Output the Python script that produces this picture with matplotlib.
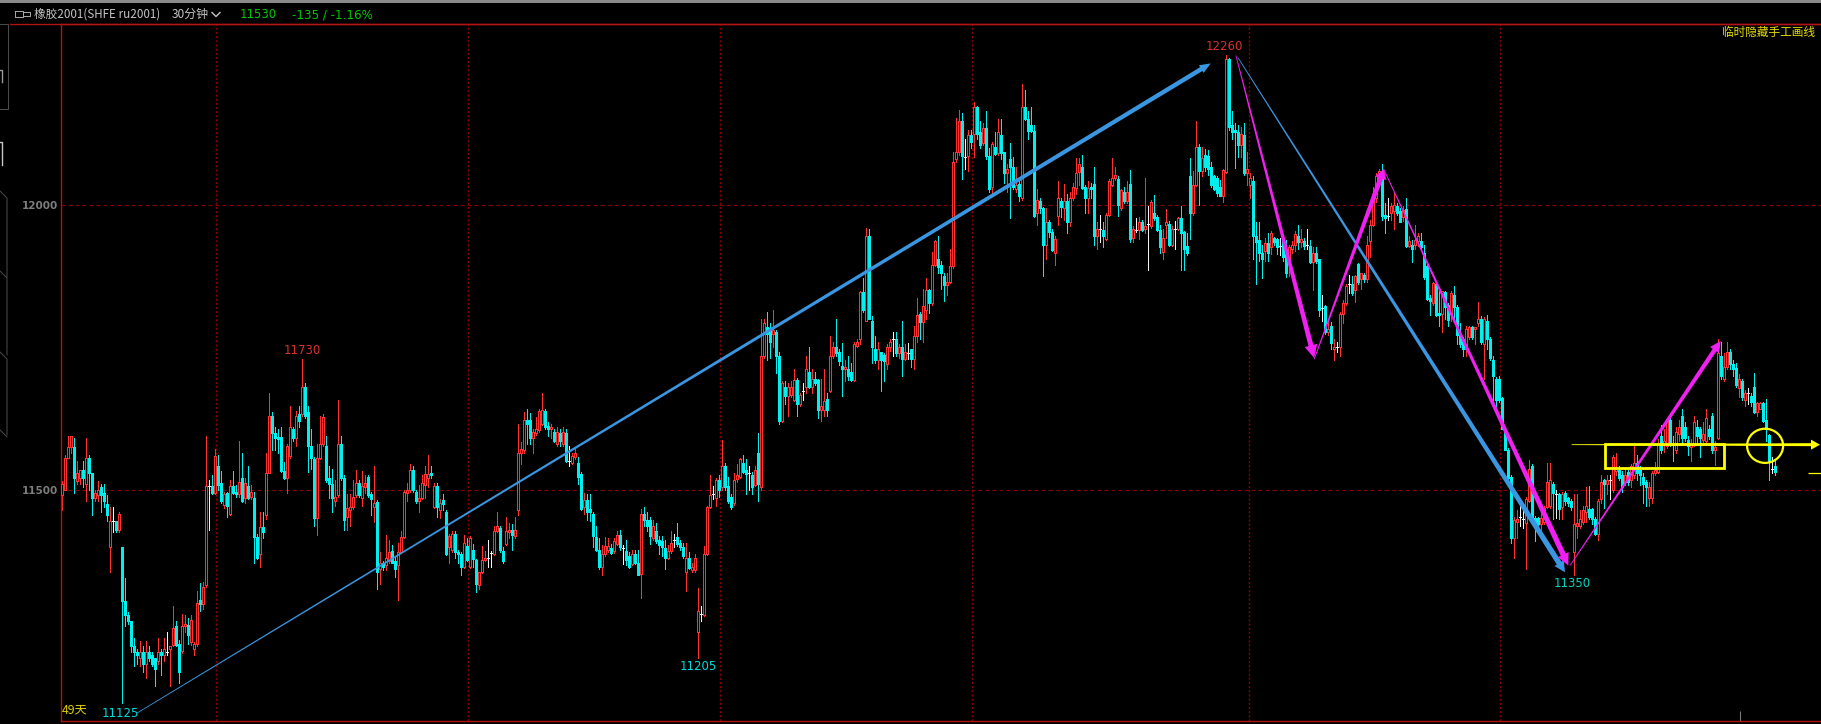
import numpy as np
import matplotlib
matplotlib.use("Agg")
import matplotlib.pyplot as plt
from matplotlib.patches import Polygon, Rectangle, Ellipse
from matplotlib.lines import Line2D

plt.rcParams['font.family'] = ['Noto Sans CJK SC', 'DejaVu Sans']

# 30 minute bars, each one (open, high, low, close)
bars_a = [
(11490,11515,11465,11510),(11500,11560,11500,11555),(11555,11595,11555,11575),(11575,11595,11565,11595),
(11575,11590,11495,11520),(11515,11550,11510,11530),(11520,11535,11510,11535),(11535,11550,11505,11520),
(11510,11590,11480,11555),(11555,11560,11500,11530),(11530,11530,11455,11485),(11485,11500,11480,11495),
(11490,11515,11480,11500),(11505,11510,11460,11490),(11495,11510,11470,11480),(11475,11490,11445,11455),
(11400,11470,11355,11445),(11445,11470,11425,11445),(11445,11445,11425,11430),(11430,11460,11425,11458),
(11400,11400,11125,11305),(11305,11345,11260,11280),(11280,11285,11265,11270),(11270,11270,11215,11225),
(11225,11240,11190,11215),(11215,11220,11195,11210),(11205,11235,11190,11215),(11215,11225,11180,11195),
(11195,11235,11170,11215),(11215,11225,11200,11205),(11210,11215,11190,11195),(11205,11205,11155,11185),
(11200,11240,11195,11215),(11215,11220,11175,11210),(11210,11240,11200,11220),(11215,11250,11210,11215),
(11220,11225,11155,11225),(11227,11296,11225,11257),(11260,11270,11225,11227),(11230,11237,11160,11180),
(11217,11282,11213,11260),(11260,11280,11250,11265),(11262,11274,11229,11245),(11233,11280,11228,11272),
(11221,11233,11210,11229),(11229,11322,11225,11302),(11306,11337,11288,11300),(11300,11338,11290,11330),
(11332,11594,11330,11506),(11506,11517,11429,11506),(11506,11525,11492,11495),(11495,11571,11492,11559),
(11541,11561,11500,11509),(11511,11533,11476,11480),(11474,11496,11468,11492),(11494,11496,11452,11472),
(11457,11517,11456,11506),(11506,11533,11492,11494),(11496,11508,11488,11492),(11492,11585,11488,11514),
(11520,11565,11478,11480),(11486,11521,11476,11511),(11506,11541,11484,11486),(11488,11508,11484,11496),
(11486,11496,11371,11417),(11417,11423,11379,11381),(11387,11460,11364,11435),(11435,11460,11415,11426),
(11456,11565,11448,11530),(11530,11670,11529,11630),(11630,11636,11569,11600),(11600,11610,11569,11591),
(11592,11606,11565,11589),(11592,11610,11531,11533),(11533,11549,11519,11521),(11521,11581,11494,11577),
(11559,11646,11555,11610),(11606,11610,11585,11590),(11591,11638,11577,11630),(11632,11646,11610,11620),
(11632,11730,11630,11681),(11681,11687,11626,11630),(11636,11646,11531,11576),(11576,11606,11537,11555),
(11553,11557,11436,11450),(11450,11581,11421,11555),(11555,11630,11553,11580),(11580,11632,11577,11628),
(11577,11594,11513,11517),(11521,11541,11486,11510),(11510,11537,11460,11486),(11480,11517,11472,11488),
(11491,11657,11488,11581),(11581,11594,11517,11521),(11521,11525,11429,11446),(11452,11492,11430,11468),
(11464,11492,11436,11470),(11470,11517,11466,11488),(11491,11534,11488,11511),(11511,11517,11488,11491),
(11486,11533,11472,11506),(11504,11525,11495,11511),(11522,11526,11488,11491),(11492,11496,11456,11484),
(11470,11541,11444,11476),(11478,11482,11326,11356),(11361,11391,11334,11371),(11372,11375,11359,11364),
(11367,11421,11359,11381),(11375,11411,11371,11391),(11393,11403,11371,11372),(11375,11383,11346,11361),
(11367,11407,11306,11391),(11391,11427,11389,11417),(11417,11500,11415,11496),(11494,11512,11480,11499),
(11499,11545,11496,11534),(11535,11541,11496,11500),(11496,11500,11476,11480),(11480,11508,11460,11486),
(11486,11525,11484,11511),(11509,11541,11486,11527),(11520,11561,11504,11527),(11530,11541,11520,11525),
(11470,11512,11468,11506),(11506,11512,11452,11470),(11464,11484,11450,11476),(11482,11492,11464,11475),
(11460,11464,11385,11387),(11399,11423,11371,11419),(11395,11427,11391,11423),(11422,11427,11380,11391),
(11391,11395,11371,11387),
]
bars_b = [
(11387,11391,11350,11364),(11364,11421,11363,11406),(11402,11415,11375,11377),(11364,11419,11363,11415),
(11395,11405,11364,11379),(11376,11379,11321,11334),(11332,11356,11326,11355),(11355,11401,11353,11376),
(11376,11393,11375,11381),(11381,11411,11364,11381),(11389,11393,11364,11389),(11387,11436,11385,11428),
(11428,11461,11426,11436),(11432,11436,11391,11395),(11393,11399,11371,11375),(11405,11452,11403,11428),
(11426,11441,11415,11430),(11430,11440,11395,11421),(11419,11452,11415,11430),(11464,11616,11456,11565),
(11565,11583,11545,11571),(11569,11636,11565,11622),(11622,11642,11581,11615),(11622,11634,11580,11590),
(11590,11606,11565,11602),(11600,11628,11596,11606),(11604,11642,11602,11638),(11616,11670,11614,11640),
(11638,11642,11606,11610),(11612,11618,11594,11606),(11606,11615,11590,11610),(11602,11606,11584,11585),
(11580,11610,11577,11602),(11600,11606,11577,11585),(11581,11610,11577,11602),(11600,11606,11549,11551),
(11551,11577,11541,11551),(11547,11565,11545,11559),(11557,11573,11553,11565),(11547,11557,11510,11522),
(11527,11531,11464,11466),(11470,11494,11458,11482),(11482,11492,11446,11460),(11466,11492,11445,11460),
(11457,11461,11399,11419),(11417,11436,11393,11395),(11395,11415,11361,11364),(11364,11403,11350,11387),
(11387,11417,11383,11401),(11394,11415,11391,11401),(11397,11405,11387,11389),(11393,11415,11389,11410),
(11405,11428,11403,11421),(11421,11429,11395,11399),(11398,11403,11369,11398),(11393,11411,11367,11377),
(11383,11391,11363,11364),(11369,11395,11367,11387),(11387,11395,11369,11371),(11372,11395,11351,11351),
(11352,11466,11310,11457),(11457,11470,11436,11446),(11446,11460,11428,11436),(11446,11452,11405,11419),
(11415,11446,11411,11436),(11428,11441,11407,11410),(11411,11419,11387,11403),(11410,11419,11383,11399),
(11397,11411,11361,11381),(11381,11403,11379,11393),(11393,11428,11389,11407),(11411,11422,11399,11411),
(11417,11441,11402,11405),(11406,11411,11395,11399),(11399,11407,11381,11383),(11356,11406,11322,11381),
(11381,11391,11361,11363),(11359,11371,11355,11364),(11359,11387,11356,11381),(11251,11328,11205,11287),
(11282,11296,11270,11282),(11280,11401,11278,11387),(11387,11472,11385,11470),(11470,11526,11468,11491),
(11492,11507,11484,11492),(11486,11521,11472,11517),(11517,11525,11488,11500),(11504,11587,11500,11541),
(11541,11547,11500,11504),(11506,11522,11476,11480),(11488,11492,11466,11470),(11476,11529,11474,11517),
(11519,11545,11513,11526),(11522,11555,11521,11553),(11547,11561,11529,11531),(11534,11553,11492,11527),
(11529,11541,11500,11529),(11526,11531,11492,11504),(11509,11541,11507,11534),(11565,11600,11480,11510),
(11504,11800,11500,11735),(11735,11800,11731,11792),(11786,11811,11727,11774),(11784,11792,11731,11760),
(11774,11816,11751,11780),(11776,11780,11704,11735),(11735,11741,11615,11620),(11620,11691,11618,11687),
(11680,11691,11650,11665),(11665,11688,11630,11680),(11666,11691,11662,11680),(11658,11711,11656,11692),
(11692,11696,11630,11650),(11650,11670,11646,11666),(11673,11687,11658,11673),(11680,11735,11670,11711),
(11707,11751,11679,11680),(11680,11711,11670,11695),(11695,11707,11683,11688),(11692,11695,11626,11640),
(11640,11695,11620,11646),(11640,11711,11630,11656),(11660,11670,11630,11640),(11674,11769,11672,11735),
(11735,11760,11731,11751),(11751,11800,11735,11739),(11742,11747,11719,11725),(11717,11757,11664,11711),
(11711,11727,11691,11715),(11711,11735,11693,11699),(11707,11723,11691,11693),(11693,11760,11691,11755),
(11752,11764,11750,11760),(11764,11849,11756,11846),(11846,11871,11812,11816),(11796,11960,11796,11946),
(11946,11958,11800,11800),(11796,11804,11722,11750),(11747,11770,11723,11727),(11727,11760,11711,11746),
(11741,11742,11674,11727),(11737,11739,11691,11726),(11721,11756,11711,11751),(11751,11764,11743,11760),
(11764,11777,11735,11764),(11765,11776,11735,11739),(11739,11756,11731,11751),(11751,11796,11700,11729),
(11729,11756,11727,11742),(11739,11757,11729,11739),
]
bars_c = [
(11746,11747,11715,11729),(11729,11788,11711,11770),(11770,11837,11760,11806),(11808,11812,11764,11794),
(11794,11853,11760,11822),(11816,11871,11800,11851),(11851,11853,11810,11827),(11827,11917,11824,11895),
(11895,11938,11893,11936),(11905,11946,11881,11891),(11895,11901,11853,11881),(11875,11881,11831,11859),
(11859,11881,11841,11865),(11865,11922,11863,11892),(11892,12092,11889,12075),(12080,12152,12075,12092),
(12092,12166,12088,12147),(12147,12161,12045,12085),(12084,12116,12063,12084),(12085,12132,12059,12122),
(12122,12132,12100,12110),(12124,12181,12084,12171),(12171,12173,12116,12124),(12127,12147,12100,12104),
(12108,12144,12104,12135),(12135,12165,12080,12085),(12085,12100,12023,12027),(12031,12110,12019,12106),
(12101,12127,12088,12089),(12090,12151,12088,12127),(12122,12151,12080,12090),(12092,12093,12039,12055),
(12055,12071,12023,12063),(12081,12108,11977,12066),(12066,12084,12027,12031),(12028,12067,12023,12035),
(12037,12047,12007,12015),(12011,12212,12009,12171),(12171,12201,12148,12150),(12151,12165,12116,12130),
(12140,12171,12128,12130),(12130,12140,11978,11981),(11986,12027,11964,12009),(12007,12011,11986,11994),
(11994,11996,11875,11930),(11930,11994,11905,11970),(11970,11974,11944,11952),(11952,11958,11918,11921),
(11916,11946,11895,11940),(11981,12041,11964,12011),(12007,12011,11978,11996),(11994,12037,11974,12007),
(12007,12019,11950,11970),(11970,12023,11962,12011),(12011,12039,12009,12031),(12029,12082,12019,12055),
(12058,12082,12035,12071),(12066,12088,12027,12029),(12031,12035,11986,12011),(12011,12041,11986,12029),
(12031,12039,12011,12027),(12037,12066,11930,11946),(11946,11970,11922,11958),(11958,11982,11934,11958),
(11956,11970,11926,11946),(11940,11986,11938,11982),(11982,12045,11981,12041),(12035,12082,12033,12047),
(12047,12066,12043,12053),(12045,12051,11980,12000),(11994,12028,11990,12025),(12023,12031,12003,12007),
(12007,12041,12003,12023),(12037,12061,11934,11939),(11942,11962,11934,11958),(11956,11977,11952,11956),
(11956,11978,11940,11970),(11970,11974,11954,11956),(11958,12047,11950,11962),(11966,11997,11885,11966),
(11962,12008,11960,12005),(11986,12017,11974,11977),(11978,11982,11954,11956),(11956,11964,11915,11926),
(11917,11958,11905,11942),(11965,11992,11942,11970),(11966,11972,11928,11930),(11930,11962,11928,11958),
(11958,11972,11922,11958),(11958,11978,11956,11976),(11976,11997,11885,11950),(11952,11954,11885,11922),
(11927,11950,11912,11915),(12051,12082,11939,11986),(11986,12059,11982,12035),(12035,12147,12033,12101),
(12101,12106,12000,12059),(12059,12101,12051,12082),(12088,12098,12059,12066),(12086,12096,12053,12063),
(12066,12075,12031,12035),(12051,12053,12025,12027),(12047,12051,12015,12020),(12031,12043,12015,12016),
(12016,12063,12005,12061),(12057,12263,12055,12256),(12256,12258,12132,12136),(12140,12165,12116,12127),
(12132,12144,12065,12127),(12127,12140,12084,12105),(12105,12136,12084,12124),(12122,12144,12053,12055),
(12055,12092,12035,12063),(12035,12055,12011,12047),(12041,12051,11905,11946),(11946,11970,11861,11934),
(11938,11970,11901,11916),(11916,11930,11871,11905),(11918,11942,11901,11932),(11932,11950,11901,11916),
(11926,11954,11913,11950),(11941,11944,11930,11934),(11939,11942,11913,11926),(11927,11942,11912,11927),
(11938,11940,11901,11909),(11913,11938,11873,11881),(11901,11930,11875,11926),(11922,11936,11915,11930),
(11930,11954,11918,11948),(11946,11964,11922,11934),(11934,11958,11926,11939),(11936,11942,11922,11928),
(11930,11958,11923,11930),(11927,11938,11897,11900),(11900,11926,11850,11916),(11916,11926,11897,11901),
(11905,11905,11804,11816),(11818,11841,11796,11818),(11822,11824,11774,11776),(11776,11796,11772,11782),
(11788,11794,11747,11757),(11746,11764,11727,11751),(11751,11760,11742,11751),(11751,11812,11735,11808),
(11808,11832,11792,11828),(11828,11861,11824,11857),(11861,11877,11845,11861),(11861,11875,11841,11845),
(11850,11877,11830,11875),(11896,11897,11861,11865),
]
bars_d = [
(11869,11881,11853,11881),(11877,11881,11865,11869),(11869,11946,11865,11930),(11936,11974,11909,11964),
(11964,12031,11962,12019),(12011,12055,12005,12051),(12043,12063,12039,12059),(12055,12071,11974,11980),
(11982,12003,11950,11977),(11980,12011,11974,11980),(11986,12003,11974,11998),(11989,12023,11958,12000),
(11998,12003,11982,11986),(11989,11994,11969,11970),(11978,11998,11972,11990),(11992,12011,11926,11927),
(11927,11946,11926,11936),(11930,11938,11900,11922),(11930,11964,11922,11938),(11936,11950,11928,11946),
(11936,11950,11922,11926),(11915,11930,11869,11873),(11893,11897,11832,11835),(11837,11841,11806,11831),
(11828,11865,11824,11863),(11861,11865,11804,11807),(11810,11849,11788,11807),(11808,11849,11777,11849),
(11847,11849,11800,11820),(11824,11828,11788,11798),(11808,11849,11796,11845),(11841,11857,11800,11820),
(11820,11824,11756,11772),(11772,11792,11751,11755),(11764,11768,11735,11747),(11747,11788,11735,11782),
(11768,11788,11764,11785),(11786,11788,11764,11768),(11782,11786,11756,11786),(11792,11830,11788,11800),
(11800,11804,11756,11760),(11756,11803,11695,11800),(11796,11806,11747,11764),(11765,11768,11727,11731),
(11727,11735,11658,11699),(11695,11697,11646,11658),(11695,11699,11654,11658),(11661,11662,11606,11606),
(11607,11610,11569,11569),(11569,11573,11509,11521),(11522,11525,11407,11415),(11415,11452,11381,11446),
(11444,11464,11415,11448),(11452,11472,11436,11452),(11448,11468,11432,11448),(11442,11488,11360,11483),
(11480,11552,11478,11537),(11541,11545,11444,11450),(11450,11453,11410,11436),(11450,11452,11428,11440),
(11440,11476,11429,11450),(11444,11472,11440,11468),(11470,11547,11468,11514),(11472,11547,11468,11517),
(11510,11513,11448,11494),(11492,11500,11450,11492),(11492,11494,11448,11466),(11470,11496,11448,11492),
(11495,11498,11474,11480),(11486,11488,11472,11476),(11480,11484,11464,11470),(11391,11492,11350,11440),
(11436,11492,11415,11441),(11436,11464,11432,11448),(11444,11472,11440,11464),(11460,11504,11444,11472),
(11466,11506,11448,11452),(11466,11468,11440,11448),(11448,11452,11421,11423),(11423,11484,11411,11480),
(11484,11525,11476,11514),(11517,11519,11468,11510),(11510,11525,11492,11517),(11517,11525,11484,11517),
(11500,11561,11496,11557),(11533,11565,11526,11538),(11535,11541,11517,11521),(11526,11533,11496,11504),
(11513,11537,11509,11526),(11531,11534,11509,11513),(11517,11545,11504,11541),(11525,11577,11521,11547),
(11547,11561,11517,11529),(11535,11541,11509,11525),(11522,11529,11476,11510),(11513,11517,11472,11504),
(11486,11513,11472,11504),(11486,11533,11476,11529),(11529,11549,11525,11534),(11531,11589,11529,11581),
(11594,11614,11565,11569),(11581,11606,11567,11585),(11577,11626,11573,11622),(11622,11626,11577,11581),
(11581,11594,11551,11579),(11569,11610,11565,11602),(11598,11622,11585,11610),(11630,11641,11581,11590),
(11610,11618,11585,11590),(11587,11594,11561,11577),(11575,11589,11551,11581),(11581,11630,11577,11618),
(11610,11622,11581,11594),(11606,11610,11557,11590),(11588,11618,11583,11598),(11585,11641,11581,11626),
(11606,11614,11589,11594),(11630,11634,11565,11569),(11569,11585,11543,11575),(11591,11764,11589,11739),
(11735,11760,11695,11699),(11695,11739,11691,11715),(11715,11760,11711,11741),(11741,11747,11711,11721),
(11721,11727,11699,11711),(11713,11723,11680,11683),(11679,11703,11662,11695),(11691,11695,11658,11662),
(11658,11675,11646,11670),(11669,11679,11650,11669),(11665,11670,11646,11653),(11681,11705,11634,11636),
(11636,11654,11630,11652),(11642,11654,11642,11652),(11652,11654,11618,11620),(11622,11660,11585,11606),
(11596,11598,11517,11549),(11537,11557,11529,11537),(11541,11553,11526,11531),
]

price_ticks = [11500, 12000]
session_breaks = [51.4, 135.4, 219.4, 303.4, 395.6, 479.4]

# (bar index, price, text, colour) of the marked extremes
extreme_labels = [(387.5, 12278, '12260', '#d8322c'), (80, 11745, '11730', '#d8322c'),
                  (19.5, 11108, '11125', '#00dcdc'), (212, 11190, '11205', '#00dcdc'),
                  (503.5, 11336, '11350', '#00d8c0')]

# hand drawn lines: start bar, start price, end bar, end price, colour, end width, head length, head half width
drawn_lines = [
    (25, 11108, 382.9, 12248, '#3a96e0', 4.5, 11, 4.5),
    (392, 12258, 501, 11355, '#3a96e0', 5.5, 11, 5.5),
    (391.3, 12262, 417.4, 11731, '#f020f0', 5.0, 13, 6.5),
    (417.4, 11729, 440.7, 12063, '#f020f0', 5.0, 10, 6),
    (440.7, 12061, 502.1, 11367, '#f020f0', 5.5, 12, 6),
    (502.7, 11367, 552.9, 11761, '#f020f0', 4.5, 11, 5.5),
    (503.2, 11579, 586.0, 11579, '#ffff00', 3.0, 9, 5),
]
box_bars = [514.3, 554.0]
box_prices = [11538, 11580]
ring_center = (567.7, 11577)
ring_size = (12, 60)
last_price = 11530

W, H = 1821, 724
fig = plt.figure(figsize=(W / 100, H / 100), dpi=100, facecolor='black')
left, right, top, bottom = 60.5, 1821, 23.5, 720.5
ax = fig.add_axes([left / W, 1 - bottom / H, (right - left) / W, (bottom - top) / H], facecolor='black')


def to_bar(px):
    return (px - 62) / 3.0


ax.set_xlim(to_bar(left), to_bar(right))
ax.set_ylim(11095, 12318)
ax.spines['right'].set_visible(False)
for s in ['left', 'top', 'bottom']:
    ax.spines[s].set_color('#b01414')
    ax.spines[s].set_linewidth(1)

ax.set_yticks(price_ticks)
ax.set_yticklabels([str(p) for p in price_ticks], color='#7d7d7d', fontsize=7.5, fontweight='bold', family='DejaVu Sans')
ax.set_xticks(session_breaks)
ax.set_xticklabels([])
ax.tick_params(length=0, pad=2)
ax.grid(axis='y', color='#8c0000', lw=0.72, ls=(0, (4, 3)), zorder=0)
ax.grid(axis='x', color='#8c0000', lw=1.0, ls=(0, (1.5, 1.5)), zorder=0)
ax.set_axisbelow(True)

bars = np.array(bars_a + bars_b + bars_c + bars_d, dtype=float)
o, h, l, c = bars.T
x = np.arange(len(bars))
up = c > o
down = c < o
flat = c == o

# one pixel lines, no smoothing, so the hollow red bodies stay open on a 3 pixel pitch
thin = 0.72
ax.vlines(x[up], l[up], h[up], color='#ff3232', lw=thin, zorder=2, antialiased=False)
ax.vlines(x[down], l[down], h[down], color='#00f0f0', lw=thin, zorder=2, antialiased=False)
ax.vlines(x[flat], l[flat], h[flat], color='#f4f4f4', lw=thin, zorder=2, antialiased=False)
ax.bar(x[up], (c - o)[up], bottom=o[up], width=0.667, facecolor='black', edgecolor='#ff3232', lw=thin, zorder=3, antialiased=False)
ax.bar(x[down], (o - c)[down], bottom=c[down], width=0.667, facecolor='#00f0f0', edgecolor='#00f0f0', lw=thin, zorder=3, antialiased=False)
ax.hlines(c[flat], x[flat] - 0.4, x[flat] + 0.4, color='#f4f4f4', lw=thin, zorder=3, antialiased=False)

for bx, by, txt, col in extreme_labels:
    ax.text(bx, by, txt, color=col, fontsize=8.5, ha='center', va='center', family='DejaVu Sans', zorder=6)


def tapered(x0, y0, x1, y1, col, w1, head_len, head_half):
    # thin at the start, widening to the arrow head, worked out in screen pixels
    p0, p1 = ax.transData.transform([(x0, y0), (x1, y1)])
    d = (p1 - p0) / np.hypot(*(p1 - p0))
    n = np.array([-d[1], d[0]])
    neck = p1 - d * head_len
    pts = [p0 + n * 0.4, neck + n * w1 / 2, neck + n * head_half, p1,
           neck - n * head_half, neck - n * w1 / 2, p0 - n * 0.4]
    ax.add_patch(Polygon(ax.transData.inverted().transform(pts), closed=True, facecolor=col, edgecolor='none', zorder=5))


for line in drawn_lines:
    tapered(*line)

ax.add_patch(Rectangle((box_bars[0], box_prices[0]), box_bars[1] - box_bars[0], box_prices[1] - box_prices[0],
                       fill=False, edgecolor='#ffff00', lw=2.0, zorder=6))
ax.add_patch(Ellipse(ring_center, ring_size[0], ring_size[1], fill=False, edgecolor='#ffff00', lw=1.6, zorder=6))
ax.hlines(last_price, to_bar(1808), to_bar(1821), color='#ffff00', lw=0.9, zorder=6)
ax.vlines(to_bar(1740), 11095, 11112, color='#777777', lw=0.8, zorder=6)


# everything outside the plot is placed in screen pixels
def ftext(px, py, txt, col, size=8.0, **kw):
    fig.text(px / W, 1 - py / H, txt, color=col, fontsize=size, va='center', **kw)


def fline(xs, ys, col, lw=0.72):
    fig.add_artist(Line2D([v / W for v in xs], [1 - v / H for v in ys], color=col, lw=lw))


fig.add_artist(Rectangle((0, 1 - 2.5 / H), 1, 2.5 / H, transform=fig.transFigure, color='#8a8a8a', lw=0))
fline([10, 1821], [23.5, 23.5], '#b01414', 1)

ftext(34, 14, '橡胶2001(SHFE ru2001)', '#c4c4c4', 8.4)
ftext(172, 14, '30分钟', '#c4c4c4', 8.6)
fline([212, 216, 220], [12.5, 16.5, 12.5], '#c4c4c4', 1.0)
ftext(240, 15, '11530', '#00c800', 8.4, family='DejaVu Sans')
ftext(292, 15, '-135 / -1.16%', '#00c800', 8.6, family='DejaVu Sans')
fline([15, 23, 23, 15, 15], [11, 11, 17, 17, 11], '#aaaaaa', 0.7)
fline([23, 30, 30, 23], [12, 12, 16, 16], '#aaaaaa', 0.7)
ftext(1722, 32, '临时隐藏手工画线', '#e8e000', 8.4)
ftext(62, 710, '49天', '#e0d000', 8.8)

# side tabs, cut off by the screenshot edge
fline([0, 7.5, 7.5, 0], [24, 24, 109, 109], '#4a4a4a')
fline([0, 7, 7], [191, 198, 277], '#4a4a4a')
fline([0, 7, 7], [271, 278, 355], '#4a4a4a')
fline([0, 7, 7], [352, 359, 435], '#4a4a4a')
fline([0, 7], [430, 437], '#4a4a4a')
fline([0, 2, 2], [70, 70, 82], '#9a9a9a', 1)
fline([0, 2, 2], [142, 142, 165], '#c8c8c8', 1)

fig.savefig('out.png', dpi=100, facecolor='black')
